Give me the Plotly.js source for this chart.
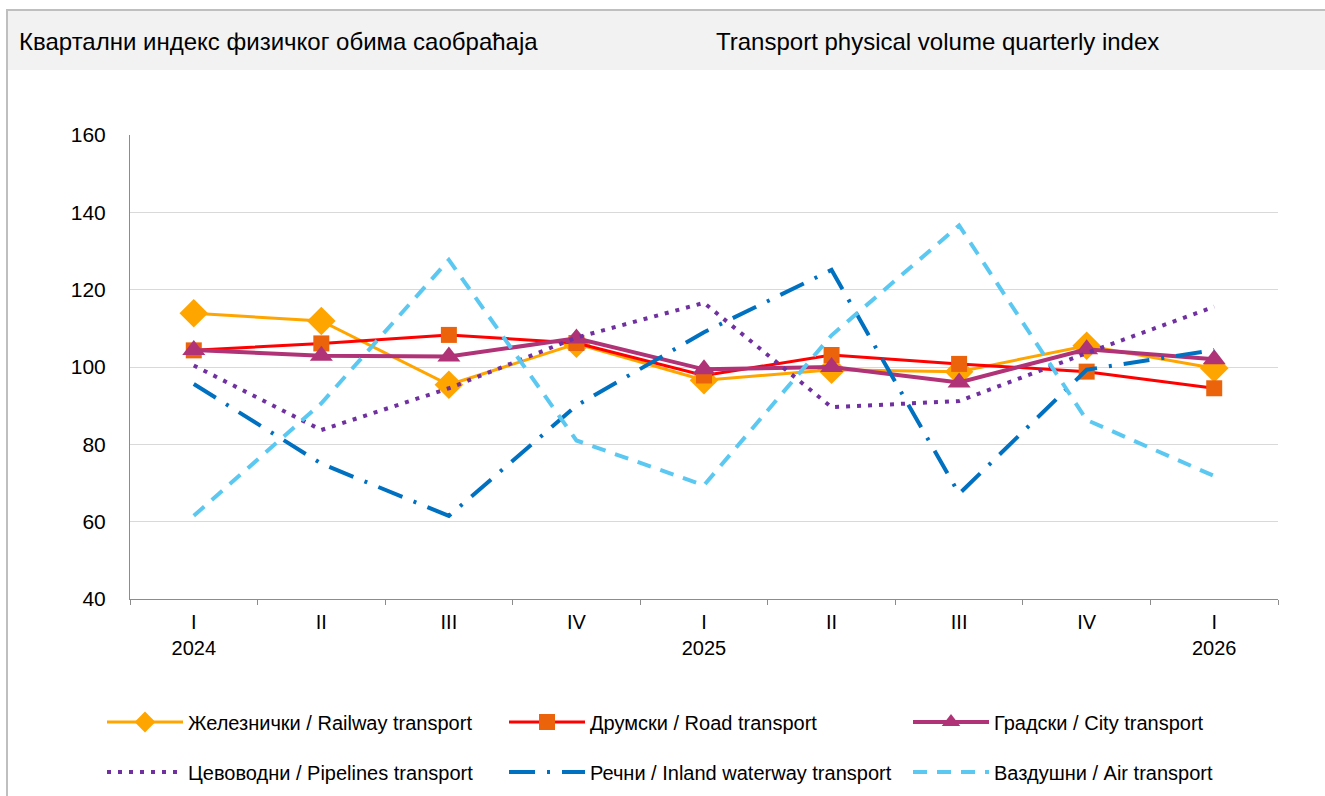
<!DOCTYPE html>
<html>
<head>
<meta charset="utf-8">
<script src="https://cdn.plot.ly/plotly-3.0.1.min.js"></script>
<style>
html,body{margin:0;padding:0;background:#fff;}
#chart{width:1325px;height:796px;}
</style>
</head>
<body>
<div id="chart"></div>
<script>
// Data
const quarters = ['I', 'II', 'III', 'IV', 'I', 'II', 'III', 'IV', 'I'];
const years = ['2024', '', '', '', '2025', '', '', '', '2026'];
const railway   = [113.9, 111.9, 95.4, 106.0, 96.6, 99.3, 98.8, 105.5, 99.7];
const road      = [104.3, 106.1, 108.3, 106.2, 97.8, 103.1, 100.8, 98.8, 94.5];
const city      = [104.4, 102.9, 102.7, 107.4, 99.4, 100.0, 96.0, 104.6, 102.0];
const pipelines = [100.4, 83.7, 94.5, 107.6, 116.6, 89.6, 91.2, 103.6, 115.6];
const inland    = [95.6, 75.0, 61.5, 90.0, 109.0, 125.1, 67.2, 99.3, 104.4];
const air       = [61.5, 90.6, 127.7, 81.0, 69.4, 108.2, 136.6, 86.3, 71.8];
const seriesNames = [
  'Железнички / Railway transport',
  'Друмски / Road transport',
  'Градски / City transport',
  'Цевоводни / Pipelines transport',
  'Речни / Inland waterway transport',
  'Ваздушни / Air transport'
];
const titleLeft = 'Квартални индекс физичког обима саобраћаја';
const titleRight = 'Transport physical volume quarterly index';

const xIdx = quarters.map((q, i) => i);
const tickText = quarters.map((q, i) => years[i] ? q + '<br>' + years[i] : q);
const boundaries = quarters.map((q, i) => i - 0.5).concat([quarters.length - 0.5]);

const styles = [
  {mode: 'lines+markers', line: {color: '#FFA500', width: 3}, marker: {symbol: 'diamond', size: 22, color: '#FFA500'}},
  {mode: 'lines+markers', line: {color: '#FF0000', width: 3}, marker: {symbol: 'square', size: 16, color: '#EB640C'}},
  {mode: 'lines+markers', line: {color: '#B03377', width: 4}, marker: {symbol: 'triangle-up', size: 20, color: '#B03377'}},
  {mode: 'lines', line: {color: '#7030A0', width: 4, dash: '4px,7px'}},
  {mode: 'lines', line: {color: '#0070C0', width: 4, dash: '26px,12px,3px,12px'}},
  {mode: 'lines', line: {color: '#5BC8F2', width: 4, dash: '14px,10px'}}
];
const seriesValues = [railway, road, city, pipelines, inland, air];

const legendIds = seriesNames.map((n, i) => i === 0 ? 'legend' : 'legend' + (i + 1));

const traces = seriesValues.map((vals, i) => Object.assign({
  x: xIdx, y: vals, name: seriesNames[i], legend: legendIds[i]
}, styles[i]));

// pixel helpers for paper coords
const L = 130, R = 1278, T = 135, B = 599;
const px = v => (v - L) / (R - L);
const py = v => (B - v) / (B - T);

const legendCols = [102, 504, 908];
const legendRows = [722, 772];

const layout = {
  width: 1325, height: 796,
  margin: {l: L, r: 1325 - R, t: T, b: 796 - B, autoexpand: false},
  paper_bgcolor: '#ffffff', plot_bgcolor: '#ffffff',
  font: {family: 'Liberation Sans, Arial, sans-serif', color: '#000000', size: 21},
  showlegend: true,
  xaxis: {
    range: [-0.5, quarters.length - 0.5],
    tickmode: 'array', tickvals: xIdx, ticktext: tickText,
    ticks: '', showgrid: false, zeroline: false,
    showline: true, linecolor: '#8C8C8C', linewidth: 1,
    tickfont: {size: 20, color: '#000'}, ticklabelstandoff: 5,
    minor: {tickmode: 'array', tickvals: boundaries, ticks: 'outside', ticklen: 5,
            tickcolor: '#8C8C8C', tickwidth: 1, showgrid: false},
    fixedrange: true
  },
  yaxis: {
    range: [40, 160], tickmode: 'linear', tick0: 40, dtick: 20,
    showgrid: true, gridcolor: '#D9D9D9', gridwidth: 1,
    showline: true, linecolor: '#8C8C8C', linewidth: 1,
    zeroline: false, ticks: '', ticklabelstandoff: 19,
    tickfont: {size: 21, color: '#000'},
    fixedrange: true
  },
  shapes: [
    {type: 'rect', xref: 'paper', yref: 'paper', x0: px(8), x1: px(1325), y0: py(70), y1: py(10),
     fillcolor: '#F2F2F2', line: {width: 0}, layer: 'below'},
    {type: 'line', xref: 'paper', yref: 'paper', x0: px(6), x1: px(1325), y0: py(10), y1: py(10),
     line: {color: '#BFBFBF', width: 2}},
    {type: 'line', xref: 'paper', yref: 'paper', x0: px(7), x1: px(7), y0: py(9), y1: py(796),
     line: {color: '#BFBFBF', width: 2}}
  ],
  annotations: [
    {text: titleLeft, xref: 'paper', yref: 'paper', x: px(17), y: py(42), xanchor: 'left', yanchor: 'middle',
     showarrow: false, font: {size: 24, color: '#000'}},
    {text: titleRight, xref: 'paper', yref: 'paper', x: px(714), y: py(42), xanchor: 'left', yanchor: 'middle',
     showarrow: false, font: {size: 24, color: '#000'}}
  ]
};

legendIds.forEach((id, i) => {
  layout[id] = {
    orientation: 'h', xanchor: 'left', yanchor: 'middle',
    x: px(legendCols[i % 3]), y: py(legendRows[Math.floor(i / 3)]),
    itemwidth: 76, font: {size: 20, color: '#000'}, bgcolor: 'rgba(0,0,0,0)', borderwidth: 0
  };
});

Plotly.newPlot('chart', traces, layout, {displayModeBar: false, staticPlot: true});
</script>
</body>
</html>
